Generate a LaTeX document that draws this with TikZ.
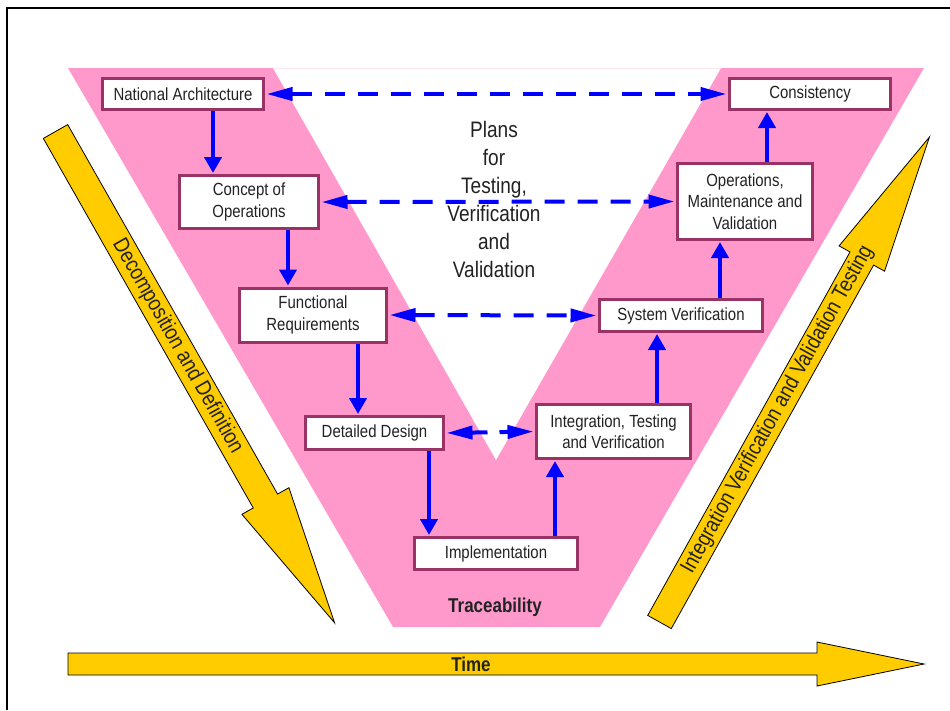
\documentclass[tikz,border=0pt]{standalone}
\usepackage{fontspec}
\setmainfont{Liberation Sans}[FakeStretch=0.85]
\usetikzlibrary{arrows.meta}
\definecolor{vpink}{RGB}{255,153,204}
\definecolor{boxline}{RGB}{153,51,102}
\definecolor{vyellow}{RGB}{255,204,0}
\definecolor{vblue}{RGB}{0,0,255}
\definecolor{ink}{RGB}{34,34,34}
\begin{document}
\begin{tikzpicture}[x=1pt,y=-1pt,
  box/.style={draw=boxline, line width=3pt, fill=white, inner sep=0pt, align=center,
    text=ink, font=\fontsize{17.6}{21.5}\selectfont},
  flow/.style={draw=vblue, line width=4pt, -{Triangle[length=16pt,width=17pt]}},
  trace/.style={draw=vblue, line width=4pt, dash pattern=on 20pt off 13pt,
    {Triangle[length=26pt,width=13pt]}-{Triangle[length=26pt,width=13pt]}},
  bigarrow/.style={fill=vyellow, draw=black, line width=0.8pt},
  arrowlabel/.style={font=\fontsize{22}{24}\selectfont, inner sep=0pt, text=ink}]
\useasboundingbox (0,0) rectangle (950,710);
\fill[white] (0,0) rectangle (950,710);
\draw[line width=2pt] (7,710) -- (7,8) -- (950,8);

% pink V
\fill[vpink] (68,68) -- (924,68) -- (600,627) -- (393,627) -- cycle;
\fill[white] (273,68) -- (721,68) -- (496,460) -- cycle;
\draw[vpink!25, line width=0.6pt] (273,68) -- (721,68);

% yellow arrows
\begin{scope}[shift={(55.5,131.5)}, rotate=-60.4]
  \draw[bigarrow] (0,-14) -- (425,-14) -- (425,-27) -- (565,0) -- (425,27) -- (425,14) -- (0,14) -- cycle;
  \node[arrowlabel, rotate=-60.4] at (247,0) {Decomposition and Definition};
\end{scope}
\begin{scope}[shift={(659.5,622)}, rotate=60.9]
  \draw[bigarrow] (0,-13.5) -- (416,-13.5) -- (416,-26) -- (555,0) -- (416,26) -- (416,13.5) -- (0,13.5) -- cycle;
  \node[arrowlabel, rotate=60.9] at (243,0) {Integration Verification and Validation Testing};
\end{scope}
\draw[bigarrow] (68,653) -- (817,653) -- (817,642) -- (924,664) -- (817,686) -- (817,675) -- (68,675) -- cycle;
\node[font=\bfseries\fontsize{20}{22}\selectfont, inner sep=0pt, text=ink] (time) at (471,664) {Time};

% texts
\node[align=center, text=ink, font=\fontsize{22.4}{28}\selectfont] (plans) at (494,199)
  {Plans\\for\\Testing,\\Verification\\and\\Validation};
\node[font=\bfseries\fontsize{20}{22}\selectfont, inner sep=0pt, text=ink] (trace) at (495,607) {Traceability};

% boxes
\node[box, minimum width=161pt, minimum height=31pt] (na) at (183,94) {National Architecture};
\node[box, minimum width=161pt, minimum height=31pt] (cons) at (810,94) {Consistency};
\node[box, minimum width=139pt, minimum height=53pt] (conc) at (249,202) {Concept of\\Operations};
\node[box, minimum width=135pt, minimum height=76pt] (ops) at (745,201.5) {Operations,\\Maintenance and\\Validation};
\node[box, minimum width=147pt, minimum height=54pt] (func) at (313,315) {Functional\\Requirements};
\node[box, minimum width=163pt, minimum height=32pt] (sysv) at (681,315.5) {System Verification};
\node[box, minimum width=138pt, minimum height=33pt] (det) at (374.5,433) {Detailed Design};
\node[box, minimum width=154pt, minimum height=54pt] (integ) at (613.5,431.5) {Integration, Testing\\and Verification};
\node[box, minimum width=163pt, minimum height=32pt] (impl) at (496,553.5) {Implementation};

% vertical flow arrows
\coordinate (x1) at (213,0);
\coordinate (x2) at (288,0);
\coordinate (x3) at (358,0);
\coordinate (x4) at (429,0);
\coordinate (x5) at (555,0);
\coordinate (x6) at (657,0);
\coordinate (x7) at (720,0);
\coordinate (x8) at (767,0);
\draw[flow, shorten >=1pt] (na.south -| x1) -- (conc.north -| x1);
\draw[flow, shorten >=1pt] (conc.south -| x2) -- (func.north -| x2);
\draw[flow, shorten >=1pt] (func.south -| x3) -- (det.north -| x3);
\draw[flow, shorten >=1pt] (det.south -| x4) -- (impl.north -| x4);
\draw[flow, shorten >=1pt] (impl.north -| x5) -- (integ.south -| x5);
\draw[flow, shorten >=1pt] (integ.north -| x6) -- (sysv.south -| x6);
\draw[flow, shorten >=1pt] (sysv.north -| x7) -- (ops.south -| x7);
\draw[flow, shorten >=1pt] (ops.north -| x8) -- (cons.south -| x8);

% dashed trace arrows
\draw[trace, shorten <=1.5pt, shorten >=1.5pt] (na.east) -- (cons.west);
\draw[trace, shorten <=1.5pt, shorten >=1.5pt] (conc.east) -- (ops.west);
\draw[trace, shorten <=1.5pt, shorten >=1.5pt] (func.east) -- (sysv.west);
\draw[trace, dash pattern=on 16pt off 12pt, shorten <=1.5pt, shorten >=1.5pt] (det.east) -- (integ.west);
\end{tikzpicture}
\end{document}
